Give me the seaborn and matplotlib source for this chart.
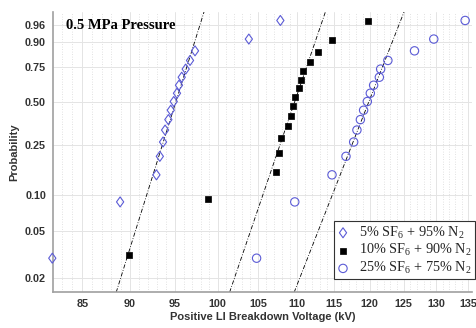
import numpy as np
import pandas as pd
import matplotlib
matplotlib.use("Agg")
import matplotlib.pyplot as plt
import seaborn as sns
from matplotlib.path import Path
from matplotlib.ticker import FixedLocator, FixedFormatter, NullFormatter

# ---- data (breakdown voltages, kV) ----
sf6_5 = [82.0, 88.95, 92.91, 93.29, 93.65, 93.88, 94.25, 94.52, 94.86, 95.23,
         95.46, 95.77, 96.23, 96.73, 97.31, 103.8, 107.8]
sf6_10 = [89.92, 98.80, 107.22, 107.64, 107.82, 108.77, 109.20, 109.51, 109.72,
          110.25, 110.51, 110.78, 111.71, 112.74, 114.75, 119.70]
sf6_25 = [104.77, 109.68, 114.69, 116.63, 117.71, 118.17, 118.66, 119.12, 119.65,
          120.08, 120.56, 121.39, 121.58, 122.64, 126.62, 129.58, 134.55]
series_labels = [r"5% SF$_6$ + 95% N$_2$", r"10% SF$_6$ + 90% N$_2$", r"25% SF$_6$ + 75% N$_2$"]
x_ticks = [85, 90, 95, 100, 105, 110, 115, 120, 125, 130, 135]
y_ticks = [0.02, 0.05, 0.10, 0.25, 0.50, 0.75, 0.90, 0.96]
y_tick_labels = ["0.02", "0.05", "0.10", "0.25", "0.50", "0.75", "0.90", "0.96"]
title_text = "0.5 MPa Pressure"
x_label = "Positive LI Breakdown Voltage (kV)"
y_label = "Probability"

# ---- styles ----
blue = "#5b5bd6"
diamond = Path([(0, 1), (0.72, 0), (0, -1), (-0.72, 0), (0, 1)],
               [Path.MOVETO, Path.LINETO, Path.LINETO, Path.LINETO, Path.CLOSEPOLY])
styles = [
    dict(marker=diamond, s=52, facecolors="none", edgecolors=blue, linewidths=0.8),
    dict(marker="s", s=16, facecolors="black", edgecolors="black", linewidths=0.5),
    dict(marker="o", s=36, facecolors="none", edgecolors=blue, linewidths=0.8),
]

sns.set_style("white")
plt.rcParams["font.family"] = ["Liberation Sans", "DejaVu Sans"]
plt.rcParams["mathtext.fontset"] = "custom"
plt.rcParams["mathtext.rm"] = "Liberation Serif"
plt.rcParams["mathtext.it"] = "Liberation Serif:italic"
plt.rcParams["mathtext.bf"] = "Liberation Serif:bold"


def fwd(p):
    p = np.clip(np.asarray(p, dtype=float), 1e-9, 1 - 1e-9)
    return np.log(-np.log1p(-p))


def inv(t):
    return -np.expm1(-np.exp(np.asarray(t, dtype=float)))


frames = []
for vals, lab in zip([sf6_5, sf6_10, sf6_25], series_labels):
    v = np.sort(np.asarray(vals))
    n = len(v)
    prob = (np.arange(1, n + 1) - 0.5) / n
    frames.append(pd.DataFrame({"voltage": v, "prob": prob, "group": lab}))
df = pd.concat(frames, ignore_index=True)

fig = plt.figure(figsize=(4.76, 3.28), dpi=100)
ax = fig.add_axes([53 / 476, 35.7 / 328, 419 / 476, 280.3 / 328])
ax.set_xscale("log")
ax.set_yscale("function", functions=(fwd, inv))
xlim = (82.07, 135.66)
ylim = (0.01494, 0.9847)
ax.set_xlim(*xlim)
ax.set_ylim(*ylim)

# reference lines through the quartiles (Weibull probability plot)
t_lo, t_hi = fwd(ylim[0]), fwd(ylim[1])
for lab in series_labels:
    v = df.loc[df.group == lab, "voltage"].to_numpy()
    q25, q75 = np.percentile(v, [25, 75], method="hazen")
    t25, t75 = fwd(0.25), fwd(0.75)
    b = (t75 - t25) / (np.log(q75) - np.log(q25))
    xs = np.exp(np.log(q25) + (np.array([t_lo, t_hi]) - t25) / b)
    sns.lineplot(x=xs, y=[ylim[0], ylim[1]], sort=False, estimator=None, ax=ax,
                 color="black", lw=0.6, linestyle=(0, (5, 2, 1, 2)), zorder=2)

handles = []
for lab, st in zip(series_labels, styles):
    sub = df[df.group == lab]
    sns.scatterplot(data=sub, x="voltage", y="prob", ax=ax, zorder=3,
                    clip_on=False, legend=False, **st)
    handles.append(ax.collections[-1])

ax.set_xlim(*xlim)
ax.set_ylim(*ylim)

ax.xaxis.set_major_locator(FixedLocator(x_ticks))
ax.xaxis.set_major_formatter(FixedFormatter([str(t) for t in x_ticks]))
ax.xaxis.set_minor_locator(FixedLocator(list(range(83, 136))))
ax.xaxis.set_minor_formatter(NullFormatter())
ax.yaxis.set_major_locator(FixedLocator(y_ticks))
ax.yaxis.set_major_formatter(FixedFormatter(y_tick_labels))
ax.yaxis.set_minor_locator(FixedLocator([]))

ax.grid(which="major", color="#e4e4e4", lw=0.7, ls="-")
ax.grid(which="minor", axis="x", color="#d8d8d8", lw=0.6, ls=(0, (1, 2)))
ax.set_axisbelow(True)

for s in ["top", "right"]:
    ax.spines[s].set_visible(False)
for s in ["left", "bottom"]:
    ax.spines[s].set_color("#a0a0a0")
    ax.spines[s].set_linewidth(1.2)

ax.tick_params(axis="x", which="major", direction="in", length=3, color="#a0a0a0",
               labelsize=7.8, labelcolor="#333333", pad=5)
ax.tick_params(axis="x", which="minor", direction="in", length=2, color="#a0a0a0")
ax.tick_params(axis="y", which="major", direction="out", length=3, color="#a0a0a0",
               labelsize=7.8, labelcolor="#333333", pad=2)
for lbl in ax.get_xticklabels() + ax.get_yticklabels():
    lbl.set_fontweight("bold")

ax.set_xlabel(x_label, fontsize=8, fontweight="bold", color="#333333", labelpad=2)
ax.set_ylabel(y_label, fontsize=8, fontweight="bold", color="#333333", labelpad=4)

ax.text(0.031, 0.953, title_text, transform=ax.transAxes, ha="left", va="center",
        fontsize=10.5, fontweight="bold", family="Liberation Serif", color="black")

leg = ax.legend(handles, series_labels, loc="lower right", bbox_to_anchor=(1.006, 0.046),
                frameon=True, fancybox=False, edgecolor="#333333", framealpha=1,
                prop={"family": "Liberation Serif", "size": 10.3},
                handlelength=0.8, handletextpad=0.7, labelspacing=0.12,
                borderpad=0.22, borderaxespad=0)
leg.get_frame().set_linewidth(0.8)

fig.savefig("out.png", dpi=100)
